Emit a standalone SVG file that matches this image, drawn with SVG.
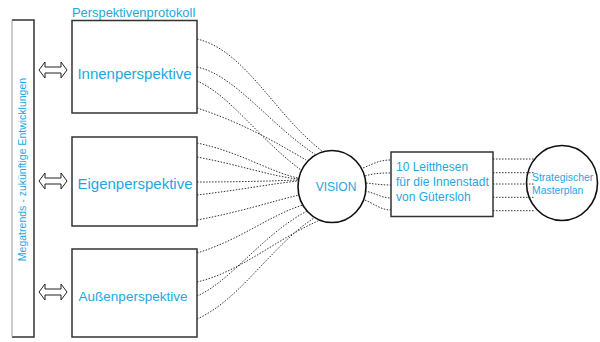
<svg xmlns="http://www.w3.org/2000/svg" width="600" height="342" viewBox="0 0 600 342">
<style>
.box{fill:#fff;stroke:#333;stroke-width:1.5}
.circ{fill:none;stroke:#111;stroke-width:1.6}
.dot{fill:none;stroke:#333;stroke-width:1;stroke-dasharray:1.5 1.5}
.t{font-family:"Liberation Sans",Arial,sans-serif;fill:#1DA8E0}
.arr{fill:#fff;stroke:#222;stroke-width:1}
</style>
<rect width="600" height="342" fill="#fff"/>
<g id="megatrends">
<rect x="12" y="20" width="22" height="317" fill="#fff" stroke="none"/>
<path d="M12,20 H34 V337 H12" fill="none" stroke="#333" stroke-width="1.5"/>
<line x1="12" y1="20" x2="12" y2="337" stroke="#999" stroke-width="1"/>
<text class="t" font-size="10.5" text-anchor="middle" transform="translate(26,169.5) rotate(-90)">Megatrends - zukünftige Entwicklungen</text>
</g>
<g id="arrows">
<path class="arr" d="M39,70 L45,62 V67 H61 V62 L67,70 L61,78 V73 H45 V78 Z"/>
<path class="arr" d="M39,181 L45,173 V178 H61 V173 L67,181 L61,189 V184 H45 V189 Z"/>
<path class="arr" d="M39,292 L45,284 V289 H61 V284 L67,292 L61,300 V295 H45 V300 Z"/>
</g>
<g id="connectors">
<path class="dot" d="M197,39 C245,50 275,115 322,151"/>
<path class="dot" d="M197,67 C235,75 270,125 316,155"/>
<path class="dot" d="M197,81 C230,95 260,140 301,170"/>
<path class="dot" d="M197,108 C240,122 272,140 306,160"/>
<path class="dot" d="M197,143 C240,152 270,172 298,178"/>
<path class="dot" d="M197,157 C240,165 270,176 298,179"/>
<path class="dot" d="M197,182 C240,182 270,181 298,180"/>
<path class="dot" d="M197,195 C240,190 270,184 298,181"/>
<path class="dot" d="M197,220 C240,212 270,202 299,195"/>
<path class="dot" d="M197,253 C240,240 270,215 303,205"/>
<path class="dot" d="M197,282 C240,272 275,240 318,221"/>
<path class="dot" d="M197,296 C230,282 262,235 307,211"/>
<path class="dot" d="M197,319 C240,300 272,245 314,218"/>
<path class="dot" d="M363,168 C375,163 380,160 391,160"/>
<path class="dot" d="M365,176 C375,173 382,173 391,173"/>
<path class="dot" d="M366,183 C376,184 382,185 391,185"/>
<path class="dot" d="M365,191 C375,193 382,198 391,198"/>
<path class="dot" d="M362,199 C374,203 380,210 391,210"/>
<line class="dot" x1="493" y1="159" x2="535" y2="159"/>
<line class="dot" x1="493" y1="172.7" x2="535" y2="172.7"/>
<line class="dot" x1="493" y1="184" x2="535" y2="184"/>
<line class="dot" x1="493" y1="197.3" x2="535" y2="197.3"/>
<line class="dot" x1="493" y1="210.7" x2="535" y2="210.7"/>
</g>
<g id="innen">
<text class="t" x="72" y="16.5" font-size="12.9">Perspektivenprotokoll</text>
<rect class="box" x="72" y="20.5" width="125" height="92.5"/>
<text class="t" x="134.5" y="78.5" font-size="15" text-anchor="middle">Innenperspektive</text>
</g>
<g id="eigen">
<rect class="box" x="72" y="137" width="125" height="89"/>
<text class="t" x="135" y="189" font-size="15" text-anchor="middle">Eigenperspektive</text>
</g>
<g id="aussen">
<rect class="box" x="72" y="249" width="125" height="88"/>
<text class="t" x="133" y="300.5" font-size="13.5" text-anchor="middle">Außenperspektive</text>
</g>
<g id="vision">
<ellipse class="circ" cx="332" cy="186.5" rx="34" ry="36" fill="#fff" style="fill:#fff"/>
<text class="t" x="336" y="190.7" font-size="12" text-anchor="middle">VISION</text>
</g>
<g id="leitthesen">
<rect class="box" x="391" y="152" width="102" height="64.5"/>
<text class="t" x="396" y="171" font-size="12">10 Leitthesen</text>
<text class="t" x="396" y="186" font-size="12">für die Innenstadt</text>
<text class="t" x="396" y="201" font-size="12">von Gütersloh</text>
</g>
<g id="masterplan">
<ellipse class="circ" cx="562" cy="183" rx="35.5" ry="37.5"/>
<text class="t" x="532" y="180.5" font-size="10.4">Strategischer</text>
<text class="t" x="532" y="193.5" font-size="10.4">Masterplan</text>
</g>
</svg>
